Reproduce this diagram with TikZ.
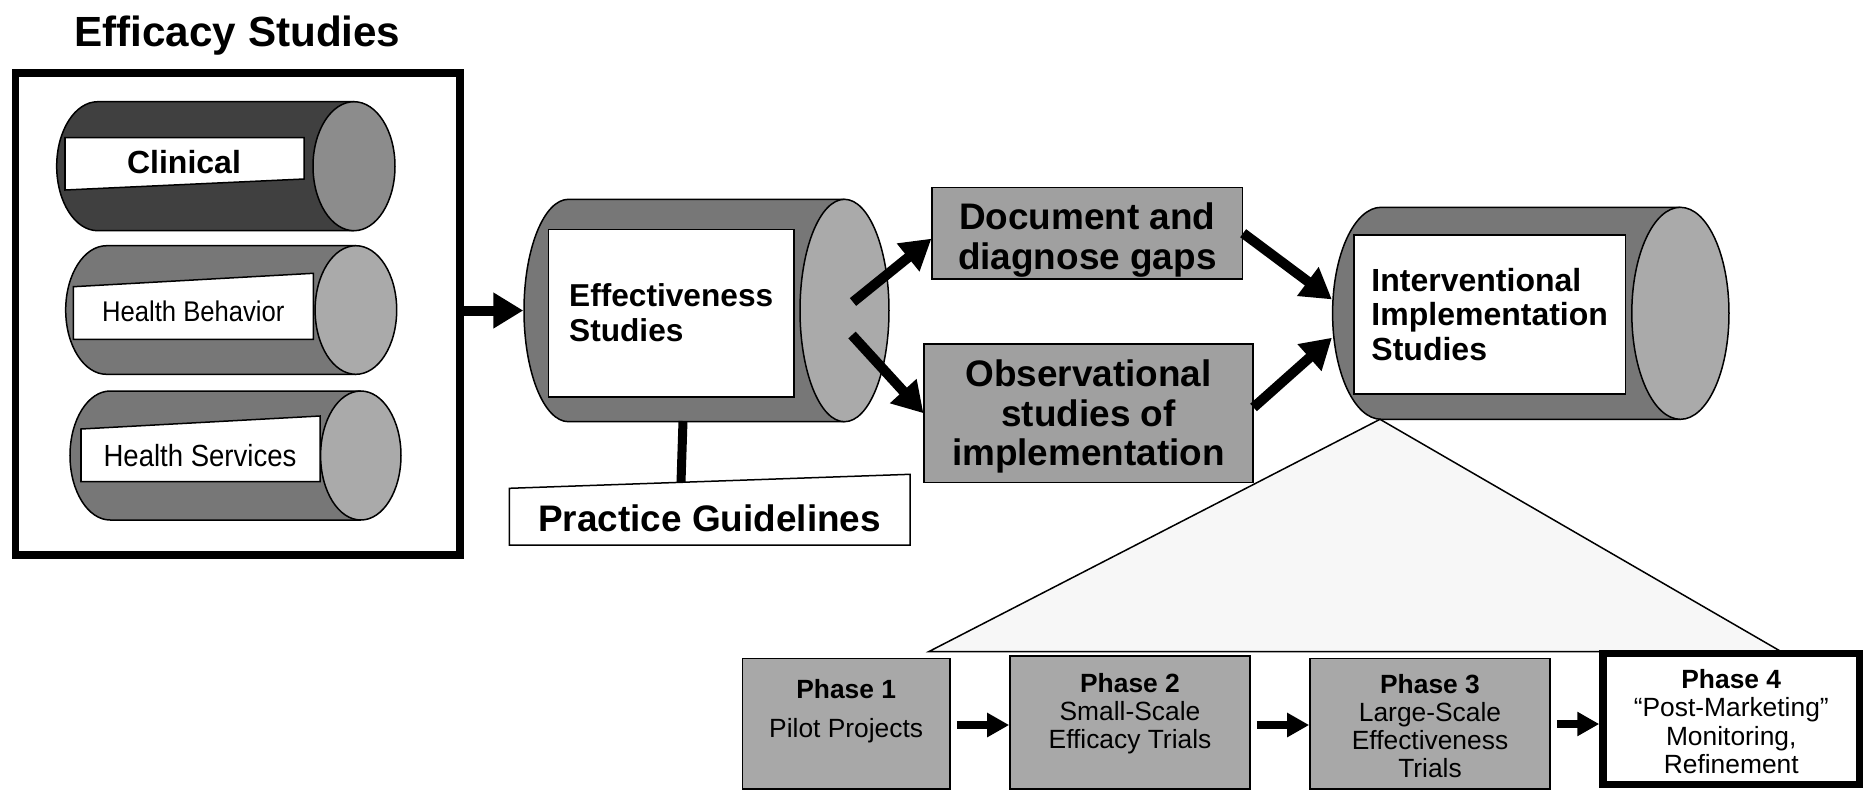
\documentclass[tikz,border=0pt]{standalone}
\usepackage{fontspec}
\setmainfont{Liberation Sans}
\newfontfamily\narrowfont[FakeStretch=0.9]{Liberation Sans}
\usetikzlibrary{arrows.meta,positioning}

\definecolor{cyldark}{HTML}{404040}
\definecolor{cyldarkend}{HTML}{8C8C8C}
\definecolor{cylbody}{HTML}{777777}
\definecolor{cylend}{HTML}{AAAAAA}
\definecolor{blockgray}{HTML}{A0A0A0}
\definecolor{phasegray}{HTML}{A8A8A8}
\definecolor{conefill}{HTML}{F7F7F7}

\tikzset{
  outline/.style={draw=black, line width=0.015cm},
  bigarrow/.style={line width=0.1cm, -{Triangle[length=0.3cm,width=0.34cm]}},
  smallarrow/.style={line width=0.087cm, -{Triangle[length=0.22cm,width=0.23cm]}, shorten <=0.06cm},
  block/.style={outline, fill=blockgray, inner sep=0},
  labelbox/.style={outline, fill=white, inner sep=0, align=left},
  phasebox/.style={outline, fill=phasegray, inner sep=0},
  phasetext/.style={inner sep=0, align=center, font=\fontsize{7.5}{8}\selectfont},
  bigtext/.style={inner sep=0, align=center, font=\bfseries\fontsize{10.5}{11.2}\selectfont},
}

% name, left x, right x, mid y, y radius, x radius, body colour, end colour
\newcommand{\barrel}[8]{%
  \fill[#7] (#2+#6,#4-#5) -- (#3-#6,#4-#5) -- (#3-#6,#4+#5) -- (#2+#6,#4+#5)
    arc[start angle=90,end angle=270,x radius=#6,y radius=#5] -- cycle;
  \draw[outline] (#3-#6,#4-#5) -- (#2+#6,#4-#5)
    arc[start angle=270,end angle=90,x radius=#6,y radius=#5] -- (#3-#6,#4+#5);
  \filldraw[outline,fill=#8] (#3-#6,#4) ellipse[x radius=#6,y radius=#5];
  \node[inner sep=0,minimum width={(#3-#2)*0.01cm},minimum height={2*#5*0.01cm}] (#1) at ({(#2+#3)/2},#4) {};
}

\begin{document}
\begin{tikzpicture}[x=0.01cm,y=-0.01cm]
\useasboundingbox (0,0) rectangle (1868,790);

\node[inner sep=0, font=\bfseries\fontsize{12}{14}\selectfont] (efftitle) at (237.5,36) {Efficacy Studies};
\node[draw, line width=0.075cm, minimum width=4.445cm, minimum height=4.82cm] (efficacy) at (237.75,314) {};

\barrel{clin}{56.7}{395}{166.2}{64.5}{41}{cyldark}{cyldarkend}
\filldraw[outline,fill=white] (65,137.7) -- (304,137.7) -- (304,179) -- (65,190) -- cycle;
\node[inner sep=0, font=\bfseries\fontsize{9.1}{11}\selectfont] (clintxt) at (184,161.7) {Clinical};

\barrel{hbeh}{65.7}{396.7}{310}{64.3}{40.8}{cylbody}{cylend}
\filldraw[outline,fill=white] (73.3,286.7) -- (313.3,273.3) -- (313.3,339.3) -- (73.3,339.3) -- cycle;
\node[inner sep=0, font=\narrowfont\fontsize{8.1}{10}\selectfont] (hbehtxt) at (193.3,311.7) {Health Behavior};

\barrel{hserv}{70}{401}{455.5}{64.5}{40.2}{cylbody}{cylend}
\filldraw[outline,fill=white] (81,429) -- (320,416) -- (320,481.7) -- (81,481.7) -- cycle;
\node[inner sep=0, font=\narrowfont\fontsize{8.7}{10}\selectfont] (hservtxt) at (200,455.7) {Health Services};

\barrel{effcyl}{524}{889}{310.5}{111.2}{44.5}{cylbody}{cylend}
\node[labelbox, minimum width=2.457cm, minimum height=1.674cm, font=\bfseries\fontsize{9}{10}\selectfont] (efftxt) at (671.2,313) {Effectiveness\\Studies};

\filldraw[outline,fill=white] (509.3,488.3) -- (910,474.3) -- (910,545) -- (509.3,545) -- cycle;
\node[inner sep=0, font=\bfseries\fontsize{10.5}{12}\selectfont] (pg) at (709.7,518.3) {Practice Guidelines};
\coordinate (effbot) at (683,421);
\coordinate (pgtop) at (681,482.5);
\draw[line width=0.09cm] (effbot) -- (pgtop);

\node[block, minimum width=3.1cm, minimum height=0.917cm] (doc) at (1087.3,233.2) {};
\node[bigtext] (doctxt) at (1087.3,240.2) {Document and\\diagnose gaps};
\node[block, minimum width=3.284cm, minimum height=1.383cm] (obs) at (1088.5,413.2) {};
\node[bigtext] (obstxt) at (1088.5,416.6) {Observational\\studies of\\implementation};

\barrel{intcyl}{1332.6}{1729}{313.3}{106}{48.6}{cylbody}{cylend}
\node[labelbox, minimum width=2.713cm, minimum height=1.59cm, font=\bfseries\fontsize{9.1}{9.7}\selectfont] (inttxt) at (1489.7,314.5) {Interventional\\Implementation\\Studies};

\filldraw[outline,fill=conefill] (1380,419.3) -- (929,651.5) -- (1781,651.5) -- cycle;

\node[phasebox, minimum width=2.077cm, minimum height=1.307cm] (ph1) at (846.2,723.7) {};
\node[phasetext, below=0.214cm of ph1.north] (ph1txt) {\textbf{Phase 1}\\[3pt]Pilot Projects};
\node[phasebox, minimum width=2.4cm, minimum height=1.33cm] (ph2) at (1130,722.5) {};
\node[phasetext, below=0.172cm of ph2.north] (ph2txt) {\textbf{Phase 2}\\Small-Scale\\Efficacy Trials};
\node[phasebox, minimum width=2.4cm, minimum height=1.307cm] (ph3) at (1430,723.7) {};
\node[phasetext, below=0.159cm of ph3.north] (ph3txt) {\textbf{Phase 3}\\Large-Scale\\Effectiveness\\Trials};
\node[draw, line width=0.073cm, fill=white, minimum width=2.565cm, minimum height=1.31cm] (ph4) at (1731.25,719.2) {};
\node[phasetext, below=0.19cm of ph4.north] (ph4txt) {\textbf{Phase 4}\\“Post-Marketing”\\Monitoring,\\Refinement};

\coordinate (effout1) at (853,302);
\coordinate (effout2) at (852,335);
\draw[bigarrow] (efficacy.east |- effcyl.west) -- (effcyl.west);
\draw[bigarrow] (effout1) -- (doc.182);
\draw[bigarrow] (effout2) -- (obs.west);
\draw[bigarrow] (doc.east) -- (intcyl.176.6);
\draw[bigarrow] (obs.2) -- (intcyl.187.2);

\draw[smallarrow] (ph1.east |- 0,725) -- (ph2.west |- 0,725);
\draw[smallarrow] (ph2.east |- 0,725) -- (ph3.west |- 0,725);
\draw[smallarrow] (ph3.east |- 0,724) -- (ph4.west |- 0,724);
\end{tikzpicture}
\end{document}
